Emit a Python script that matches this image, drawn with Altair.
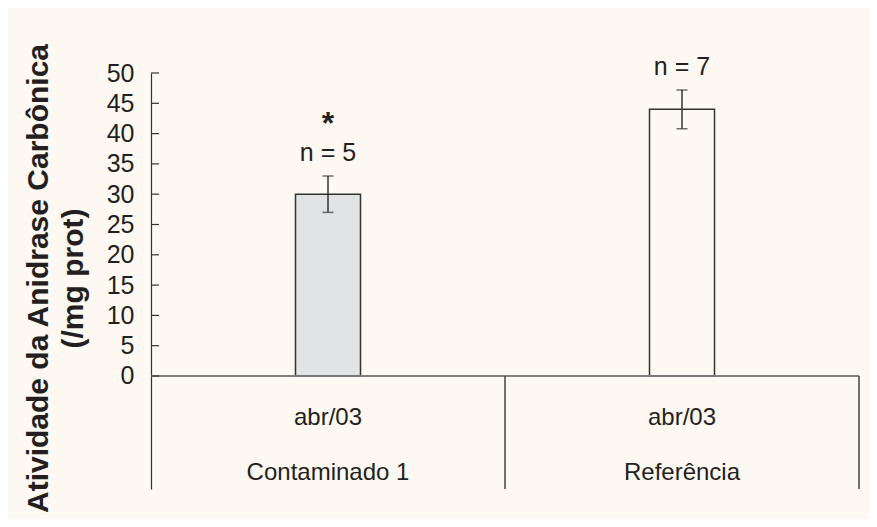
import altair as alt
import pandas as pd

# ---- data ----
grupos = ["Contaminado 1", "Referência"]
periodos = ["abr/03", "abr/03"]
medias = [30.0, 44.0]
erros = [3.0, 3.2]
n_labels = ["n = 5", "n = 7"]
signif = ["*", ""]
y_ticks = [0, 5, 10, 15, 20, 25, 30, 35, 40, 45, 50]

df = pd.DataFrame({
    "grupo": grupos,
    "periodo": periodos,
    "media": medias,
    "erro": erros,
    "n": n_labels,
    "sig": signif,
})
df["lo"] = df["media"] - df["erro"]
df["hi"] = df["media"] + df["erro"]
ticks_df = pd.DataFrame({"v": y_ticks})

BG = "#FDF9F2"
INK = "#231F20"
FONT = "Liberation Sans, Arial, sans-serif"
Y_MIN = -18.65
W, H = 708, 416

yscale = alt.Scale(domain=[Y_MIN, 50], nice=False, zero=False)
xscale = alt.Scale(domain=grupos, paddingInner=0, paddingOuter=0)
X = alt.X("grupo:N", scale=xscale, axis=None)

base = alt.Chart(df)

bars = base.mark_bar(size=65, stroke="#333333", strokeWidth=1.5).encode(
    x=X,
    y=alt.Y(
        "media:Q",
        scale=yscale,
        axis=alt.Axis(
            values=y_ticks,
            grid=False,
            ticks=False,
            tickSize=0,
            labelPadding=17,
            labelFontSize=25,
            labelFont=FONT,
            labelColor=INK,
            domainColor="#333333",
            domainWidth=1.2,
            title=["Atividade da Anidrase Carbônica", "(/mg prot)"],
            titleFont=FONT,
            titleFontSize=30,
            titleFontWeight="bold",
            titleColor=INK,
            titleAngle=-90,
            titleBaseline="middle",
            titleAlign="center",
            titleLineHeight=35,
            titleX=-113,
            titleY=205,
        ),
    ),
    y2=alt.datum(0),
    fill=alt.Fill("grupo:N", scale=alt.Scale(domain=grupos, range=["#E2E3E5", BG]), legend=None),
)

inner_ticks = alt.Chart(ticks_df).mark_rule(color="#333333", strokeWidth=1.2).encode(
    x=alt.value(0), x2=alt.value(8), y=alt.Y("v:Q", scale=yscale)
)

zero_line = base.mark_rule(color="#7A7A7A", strokeWidth=1.5).encode(
    y=alt.datum(0)
)

dividers = base.mark_rule(color="#444444", strokeWidth=1.5).encode(
    x=alt.X("grupo:N", scale=xscale, axis=None, bandPosition=1),
    y=alt.datum(0),
    y2=alt.datum(Y_MIN),
)

err_rule = base.mark_rule(color="#333333", strokeWidth=1.5).encode(
    x=X, y=alt.Y("lo:Q", scale=yscale), y2="hi:Q"
)
cap_lo = base.mark_tick(color="#333333", size=11, thickness=1.5).encode(
    x=X, y=alt.Y("lo:Q", scale=yscale)
)
cap_hi = base.mark_tick(color="#333333", size=11, thickness=1.5).encode(
    x=X, y=alt.Y("hi:Q", scale=yscale)
)

n_text = base.mark_text(
    baseline="alphabetic", dy=-15, fontSize=25, font=FONT, color=INK
).encode(x=X, y=alt.Y("hi:Q", scale=yscale), text="n:N")

sig_text = base.mark_text(
    baseline="alphabetic", dy=-42, fontSize=32, fontWeight="bold",
    font=FONT, color=INK
).encode(x=X, y=alt.Y("hi:Q", scale=yscale), text="sig:N")

lvl1 = base.mark_text(baseline="middle", fontSize=24, font=FONT, color=INK).encode(
    x=X, y=alt.datum(-6.9), text="periodo:N"
)
lvl2 = base.mark_text(baseline="middle", fontSize=24, font=FONT, color=INK).encode(
    x=X, y=alt.datum(-16.0), text="grupo:N"
)

chart = (
    alt.layer(bars, zero_line, dividers, inner_ticks, err_rule, cap_lo, cap_hi,
              n_text, sig_text, lvl1, lvl2)
    .properties(
        width=W,
        height=H,
        background=BG,
        padding={"left": 143, "top": 65, "right": 10, "bottom": 30},
        autosize=alt.AutoSizeParams(type="none"),
    )
    .configure_view(stroke=None)
)

chart.save("out.html", embed_options={"renderer": "svg", "actions": False})
